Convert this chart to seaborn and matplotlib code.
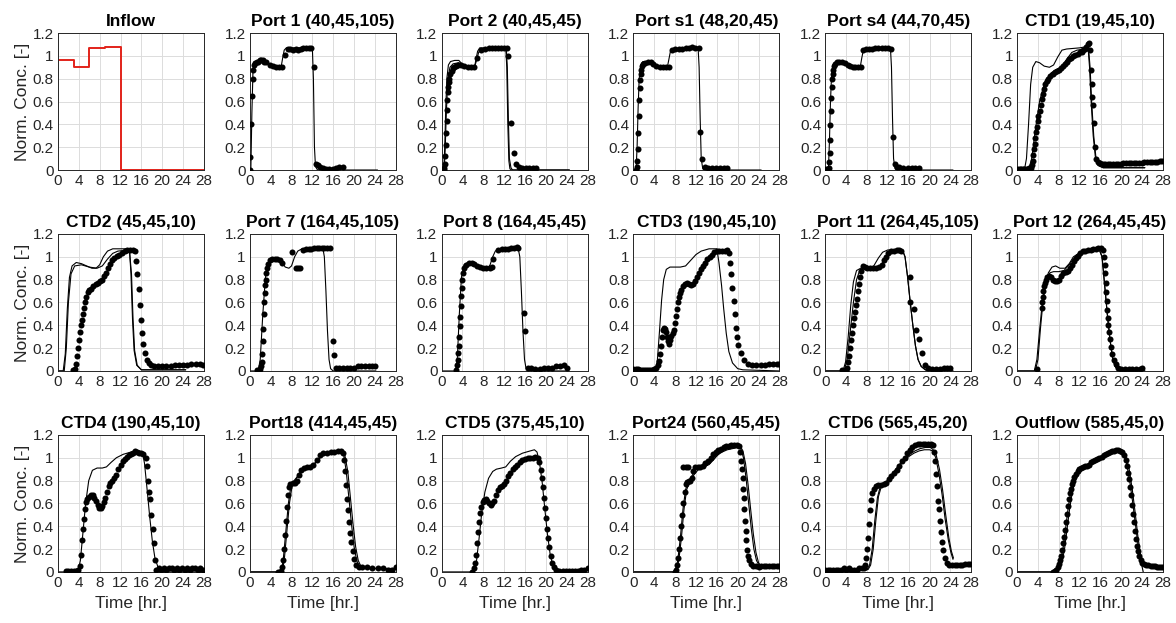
import matplotlib
matplotlib.use("Agg")
import matplotlib.pyplot as plt
import pandas as pd
import seaborn as sns

# ---------------- text ----------------
titles = ["Inflow", "Port 1 (40,45,105)", "Port 2 (40,45,45)", "Port s1 (48,20,45)",
          "Port s4 (44,70,45)", "CTD1 (19,45,10)",
          "CTD2 (45,45,10)", "Port 7 (164,45,105)", "Port 8 (164,45,45)", "CTD3 (190,45,10)",
          "Port 11 (264,45,105)", "Port 12 (264,45,45)",
          "CTD4 (190,45,10)", "Port18 (414,45,45)", "CTD5 (375,45,10)", "Port24 (560,45,45)",
          "CTD6 (565,45,20)", "Outflow (585,45,0)"]
ylabel_text = "Norm. Conc. [-]"
xlabel_text = "Time [hr.]"
xticks = [0, 4, 8, 12, 16, 20, 24, 28]
xtick_labels = ["0", "4", "8", "12", "16", "20", "24", "28"]
yticks = [0, 0.2, 0.4, 0.6, 0.8, 1.0, 1.2]
ytick_labels = ["0", "0.2", "0.4", "0.6", "0.8", "1", "1.2"]

# ---------------- data: (time [hr], normalized concentration) ----------------
inflow = [(0, 0.96), (3, 0.96), (3, 0.90), (6, 0.90), (6, 1.07), (9, 1.07), (9, 1.08),
          (12, 1.08), (12, 0.0), (28, 0.0)]

p1_sim = [(0, 0), (0.2, 0), (0.4, 0.5), (0.6, 0.85), (0.8, 0.93), (1.2, 0.95), (2, 0.95), (3, 0.95),
          (3.6, 0.93), (4.2, 0.91), (5, 0.90), (6.0, 0.90), (6.3, 0.98), (6.6, 1.05), (7, 1.07), (9, 1.07),
          (12.0, 1.07), (12.2, 0.8), (12.4, 0.2), (12.6, 0.03), (13, 0.0), (24.5, 0.0)]
p1_obs = [(0.0, 0.0), (0.1, 0.11), (0.3, 0.40), (0.45, 0.65), (0.57, 0.80), (0.65, 0.88), (0.8, 0.92),
          (1.0, 0.94), (1.3, 0.95), (1.6, 0.95), (1.9, 0.96), (2.2, 0.96), (2.5, 0.96), (2.8, 0.95),
          (3.1, 0.95), (3.8, 0.92), (4.4, 0.91), (5.0, 0.90), (5.6, 0.90), (6.2, 0.90), (6.8, 1.01),
          (7.3, 1.06), (7.8, 1.06), (8.3, 1.05), (8.8, 1.06), (9.3, 1.05), (9.8, 1.06), (10.3, 1.07),
          (10.8, 1.07), (11.3, 1.07), (11.8, 1.07), (12.4, 0.905), (12.7, 0.05), (13.1, 0.045),
          (13.5, 0.03), (14.0, 0.02), (14.6, 0.01), (15.2, 0.01), (15.9, 0.01), (16.6, 0.02),
          (17.2, 0.03), (17.8, 0.03)]

p2_sim_a = [(0, 0), (0.4, 0), (0.6, 0.2), (0.8, 0.55), (1.0, 0.8), (1.3, 0.92), (1.7, 0.95), (2.5, 0.96),
            (3.3, 0.96), (3.9, 0.93), (4.5, 0.91), (5.5, 0.90), (6.3, 0.90), (6.6, 0.97), (6.9, 1.04),
            (7.3, 1.07), (9, 1.07), (12.3, 1.07), (12.5, 0.9), (12.7, 0.4), (12.9, 0.08), (13.1, 0.01),
            (13.4, 0), (24.5, 0)]
p2_sim_b = [(0, 0), (0.5, 0), (0.7, 0.2), (0.9, 0.5), (1.2, 0.8), (1.6, 0.9), (2.2, 0.93), (3.3, 0.94),
            (4, 0.92), (5, 0.905), (6.3, 0.90), (6.7, 0.96), (7.1, 1.03), (7.5, 1.06), (9, 1.07),
            (12.4, 1.07), (12.6, 0.9), (12.8, 0.45), (13.0, 0.1), (13.3, 0.02), (13.6, 0), (24.5, 0)]
p2_obs = [(0.5, 0.0), (0.55, 0.02), (0.6, 0.05), (0.7, 0.12), (0.8, 0.22), (0.9, 0.32), (1.0, 0.43),
          (1.05, 0.53), (1.1, 0.61), (1.2, 0.68), (1.3, 0.73), (1.4, 0.77), (1.5, 0.8), (1.7, 0.84),
          (1.9, 0.87), (2.1, 0.89), (2.4, 0.9), (2.8, 0.91), (3.2, 0.92), (3.7, 0.92), (4.2, 0.91),
          (5.0, 0.9), (5.7, 0.9), (6.3, 0.9), (6.8, 0.98), (7.6, 1.05), (8.3, 1.06), (9.0, 1.07),
          (9.6, 1.07), (10.2, 1.07), (10.8, 1.07), (11.4, 1.07), (12.0, 1.07), (12.5, 1.07),
          (12.8, 1.0), (13.4, 0.41), (13.9, 0.15), (14.3, 0.05), (14.8, 0.03), (15.4, 0.02),
          (16.1, 0.02), (16.8, 0.02), (17.5, 0.02), (18.1, 0.02)]

p3_sim = [(0, 0), (0.5, 0), (0.7, 0.2), (0.9, 0.55), (1.1, 0.8), (1.4, 0.92), (1.8, 0.95), (3, 0.95),
          (3.6, 0.94), (4.3, 0.91), (5.5, 0.9), (6.5, 0.9), (6.8, 0.97), (7.1, 1.04), (7.5, 1.06),
          (10, 1.07), (12.4, 1.07), (12.6, 0.9), (12.8, 0.45), (13.0, 0.1), (13.3, 0.01), (13.6, 0),
          (24.5, 0)]
p3_obs = [(0.5, 0.0), (0.6, 0.03), (0.7, 0.08), (0.8, 0.18), (0.9, 0.32), (1.0, 0.47), (1.1, 0.61),
          (1.2, 0.72), (1.3, 0.79), (1.4, 0.84), (1.5, 0.88), (1.7, 0.91), (1.9, 0.93), (2.3, 0.94),
          (2.8, 0.95), (3.3, 0.95), (3.8, 0.93), (4.3, 0.91), (5.0, 0.9), (5.6, 0.9), (6.2, 0.9),
          (6.8, 0.9), (7.4, 1.05), (8.0, 1.06), (8.7, 1.06), (9.4, 1.06), (10.1, 1.07), (10.7, 1.07),
          (11.3, 1.08), (11.9, 1.07), (12.5, 1.07), (12.8, 0.33), (13.2, 0.1), (13.7, 0.03),
          (14.3, 0.02), (15.0, 0.02), (15.8, 0.02), (16.6, 0.02), (17.3, 0.02), (17.9, 0.02)]

p4_sim = [(0, 0), (0.6, 0), (0.8, 0.25), (1.0, 0.6), (1.2, 0.82), (1.5, 0.92), (2, 0.95), (3.2, 0.95),
          (3.8, 0.94), (4.5, 0.91), (5.5, 0.9), (6.7, 0.9), (7.0, 0.98), (7.3, 1.05), (7.8, 1.06),
          (10, 1.07), (12.5, 1.07), (12.7, 0.9), (12.9, 0.45), (13.1, 0.1), (13.4, 0.01), (13.7, 0),
          (24.5, 0)]
p4_obs = [(0.2, 0.01), (0.5, 0.01), (0.7, 0.02), (0.8, 0.07), (0.85, 0.15), (0.9, 0.26), (1.0, 0.39),
          (1.05, 0.52), (1.1, 0.63), (1.2, 0.73), (1.3, 0.8), (1.4, 0.84), (1.5, 0.88), (1.7, 0.91),
          (1.9, 0.93), (2.2, 0.95), (2.7, 0.95), (3.2, 0.95), (3.8, 0.94), (4.3, 0.92), (4.8, 0.91),
          (5.3, 0.9), (5.8, 0.9), (6.3, 0.9), (6.8, 0.9), (7.3, 1.05), (7.8, 1.06), (8.4, 1.06),
          (9.0, 1.06), (9.6, 1.07), (10.2, 1.07), (10.8, 1.07), (11.4, 1.07), (12.0, 1.07),
          (12.6, 1.06), (12.9, 0.29), (13.3, 0.05), (13.7, 0.03), (14.2, 0.03), (15.0, 0.02),
          (15.8, 0.02), (16.6, 0.02), (17.3, 0.02), (18.0, 0.02)]

p5_sim_a = [(0, 0), (1.4, 0), (1.8, 0.1), (2.2, 0.4), (2.6, 0.75), (3.0, 0.9), (3.6, 0.95), (4.3, 0.94),
            (5.2, 0.91), (6.2, 0.9), (7, 0.92), (7.8, 0.99), (8.6, 1.05), (9.5, 1.06), (12, 1.07),
            (13.2, 1.08), (13.6, 1.08), (13.9, 0.9), (14.2, 0.6), (14.6, 0.3), (15.0, 0.12),
            (15.5, 0.04), (16.5, 0.02), (24.5, 0.02)]
p5_sim_b = [(0, 0), (2.2, 0), (2.8, 0.1), (3.5, 0.35), (4.3, 0.6), (5.3, 0.77), (6.5, 0.85),
            (7.5, 0.88), (8.5, 0.9), (9.5, 0.97), (10.5, 1.03), (11.5, 1.05), (13, 1.06), (13.7, 1.07),
            (14.0, 0.9), (14.3, 0.6), (14.7, 0.3), (15.1, 0.12), (15.6, 0.04), (16.5, 0.02), (24.5, 0.02)]
p5_obs = [(0.2, 0.01), (0.5, 0.01), (0.8, 0.01), (1.1, 0.01), (1.4, 0.01), (1.7, 0.01), (2.0, 0.01),
          (2.3, 0.02), (2.6, 0.02), (2.8, 0.04), (3.0, 0.08), (3.1, 0.13), (3.2, 0.18), (3.35, 0.23),
          (3.5, 0.28), (3.65, 0.33), (3.8, 0.38), (3.95, 0.43), (4.1, 0.47), (4.3, 0.52), (4.5, 0.57),
          (4.7, 0.62), (4.9, 0.67), (5.1, 0.71), (5.4, 0.75), (5.7, 0.78), (6.0, 0.8), (6.4, 0.82),
          (6.8, 0.84), (7.2, 0.86), (7.6, 0.87), (8.0, 0.88), (8.4, 0.89), (8.8, 0.91), (9.2, 0.93),
          (9.6, 0.95), (10.0, 0.97), (10.4, 0.98), (10.8, 1.0), (11.2, 1.01), (11.6, 1.02), (12.0, 1.03),
          (12.4, 1.03), (12.7, 1.05), (13.0, 1.06), (13.3, 1.08), (13.6, 1.1), (13.8, 1.11),
          (14.0, 1.05), (14.2, 0.88), (14.3, 0.75), (14.4, 0.64), (14.5, 0.57), (14.7, 0.41),
          (15.0, 0.2), (15.2, 0.1), (15.5, 0.07), (15.9, 0.06), (16.4, 0.05), (16.9, 0.05),
          (17.4, 0.05), (17.9, 0.05), (18.4, 0.05), (18.9, 0.05), (19.4, 0.05), (19.9, 0.05),
          (20.4, 0.06), (20.9, 0.06), (21.4, 0.06), (21.9, 0.06), (22.4, 0.06), (22.9, 0.06),
          (23.4, 0.06), (23.9, 0.06), (24.4, 0.07), (24.9, 0.07), (25.4, 0.07), (25.9, 0.07),
          (26.4, 0.07), (26.9, 0.07), (27.4, 0.08), (27.8, 0.08)]

p7_sim_a = [(0, 0), (1.0, 0), (1.4, 0.15), (1.8, 0.55), (2.2, 0.82), (2.7, 0.92), (3.5, 0.95),
            (4.5, 0.94), (5.5, 0.92), (6.5, 0.9), (7.3, 0.9), (8, 0.93), (8.7, 1.0), (9.5, 1.05),
            (10.5, 1.07), (13.7, 1.07), (14.0, 0.85), (14.3, 0.45), (14.6, 0.18), (15.1, 0.05),
            (16, 0.01), (24.5, 0.01)]
p7_sim_b = [(0, 0), (1.2, 0), (1.6, 0.2), (2.0, 0.6), (2.5, 0.85), (3.2, 0.92), (4.5, 0.93),
            (6, 0.91), (7.5, 0.9), (8.5, 0.92), (9.5, 0.98), (10.5, 1.03), (11.5, 1.05), (13.7, 1.06),
            (14.1, 0.85), (14.4, 0.45), (14.7, 0.18), (15.2, 0.05), (16, 0.01), (24.5, 0.01)]
p7_obs = [(2.9, 0.01), (3.2, 0.02), (3.4, 0.06), (3.6, 0.13), (3.8, 0.2), (4.0, 0.27), (4.2, 0.34),
          (4.4, 0.4), (4.6, 0.45), (4.8, 0.5), (5.0, 0.55), (5.2, 0.6), (5.4, 0.65), (5.7, 0.69),
          (6.0, 0.71), (6.4, 0.72), (6.8, 0.74), (7.2, 0.76), (7.6, 0.77), (8.0, 0.79), (8.4, 0.8),
          (8.8, 0.83), (9.2, 0.86), (9.6, 0.9), (10.0, 0.94), (10.4, 0.97), (10.8, 0.99), (11.3, 1.01),
          (11.8, 1.02), (12.3, 1.03), (12.8, 1.05), (13.3, 1.06), (13.8, 1.06), (14.3, 1.06),
          (14.7, 1.05), (15.0, 0.96), (15.2, 0.85), (15.5, 0.72), (15.7, 0.58), (15.9, 0.45),
          (16.1, 0.33), (16.4, 0.24), (16.7, 0.16), (17.0, 0.1), (17.4, 0.07), (17.9, 0.05),
          (18.5, 0.04), (19.2, 0.04), (20.0, 0.04), (20.8, 0.04), (21.6, 0.04), (22.4, 0.05),
          (23.2, 0.05), (24.0, 0.05), (24.8, 0.05), (25.6, 0.06), (26.4, 0.06), (27.2, 0.06), (27.9, 0.05)]

p8_sim = [(0, 0), (1.6, 0), (2.0, 0.1), (2.5, 0.5), (3.0, 0.82), (3.5, 0.94), (4.3, 0.97), (5.2, 0.98),
          (6, 0.96), (6.8, 0.91), (7.5, 0.9), (8.0, 0.92), (8.6, 1.0), (9.2, 1.05), (10, 1.07),
          (12, 1.07), (14.0, 1.08), (14.3, 1.0), (14.6, 0.7), (14.9, 0.35), (15.2, 0.1), (15.5, 0.02),
          (16, 0), (24.2, 0)]
p8_obs = [(1.3, 0.01), (1.7, 0.01), (2.0, 0.02), (2.2, 0.04), (2.3, 0.08), (2.4, 0.15), (2.5, 0.26),
          (2.6, 0.37), (2.7, 0.5), (2.8, 0.6), (2.9, 0.68), (3.0, 0.75), (3.1, 0.8), (3.2, 0.86),
          (3.35, 0.9), (3.5, 0.94), (3.8, 0.97), (4.3, 0.98), (4.8, 0.98), (5.3, 0.98), (5.8, 0.97),
          (6.1, 0.95), (8.1, 1.04), (8.8, 0.9), (9.2, 0.9), (9.7, 0.9), (10.3, 1.06), (10.8, 1.07),
          (11.3, 1.07), (11.8, 1.07), (12.3, 1.08), (12.8, 1.08), (13.3, 1.08), (13.8, 1.08),
          (14.3, 1.08), (14.8, 1.08), (15.3, 1.08), (16.0, 0.26), (16.1, 0.14), (16.5, 0.03),
          (17.2, 0.03), (17.9, 0.03), (18.6, 0.03), (19.3, 0.03), (20.0, 0.03), (20.7, 0.04),
          (21.4, 0.04), (22.1, 0.04), (22.8, 0.04), (23.5, 0.04), (24.0, 0.04)]

p9_sim = [(0, 0), (2.7, 0), (3.0, 0.1), (3.4, 0.5), (3.8, 0.82), (4.3, 0.93), (5, 0.95), (6, 0.95),
          (6.8, 0.92), (7.6, 0.9), (8.8, 0.9), (9.3, 0.93), (9.8, 1.0), (10.3, 1.05), (11, 1.07),
          (14.7, 1.07), (15.0, 1.0), (15.3, 0.7), (15.6, 0.35), (15.9, 0.1), (16.2, 0.02), (16.5, 0),
          (24, 0)]
p9_obs = [(2.8, 0.01), (3.0, 0.05), (3.1, 0.1), (3.2, 0.16), (3.3, 0.22), (3.4, 0.3), (3.5, 0.39),
          (3.6, 0.47), (3.7, 0.57), (3.8, 0.66), (3.9, 0.73), (4.0, 0.8), (4.1, 0.86), (4.3, 0.9),
          (4.6, 0.93), (5.2, 0.95), (5.8, 0.95), (6.3, 0.94), (6.8, 0.92), (7.4, 0.91), (8.0, 0.9),
          (8.6, 0.9), (9.2, 0.9), (9.6, 0.91), (9.8, 0.98), (10.9, 1.06), (11.5, 1.07), (12.1, 1.07),
          (12.7, 1.07), (13.3, 1.08), (13.9, 1.08), (14.4, 1.09), (14.7, 1.08), (15.8, 0.51),
          (16.0, 0.35), (16.5, 0.03), (17.2, 0.03), (18.0, 0.02), (18.8, 0.02), (19.6, 0.03),
          (20.4, 0.03), (21.2, 0.03), (22.0, 0.04), (22.8, 0.04), (23.4, 0.05), (24.0, 0.03)]

p10_sim = [(0, 0), (4.2, 0), (4.6, 0.1), (5.0, 0.35), (5.4, 0.62), (5.8, 0.8), (6.3, 0.89), (7, 0.91),
           (9, 0.91), (10, 0.92), (11, 0.97), (12, 1.02), (13, 1.05), (14.5, 1.07), (16.0, 1.07),
           (16.4, 0.95), (16.9, 0.75), (17.3, 0.55), (17.8, 0.33), (18.3, 0.17), (19.0, 0.07),
           (20.0, 0.02), (21, 0.01), (28, 0.0)]
p10_obs = [(0.0, 0.02), (0.4, 0.02), (0.8, 0.02), (1.2, 0.01), (1.6, 0.01), (2.0, 0.01), (2.4, 0.01),
           (2.8, 0.01), (3.2, 0.01), (3.6, 0.01), (4.0, 0.02), (4.4, 0.03), (4.7, 0.05), (4.9, 0.09),
           (5.1, 0.15), (5.3, 0.22), (5.5, 0.3), (5.7, 0.36), (5.9, 0.38), (6.1, 0.37), (6.3, 0.34),
           (6.5, 0.3), (6.7, 0.26), (6.9, 0.24), (7.1, 0.27), (7.3, 0.31), (7.5, 0.33), (7.7, 0.36),
           (7.9, 0.42), (8.1, 0.48), (8.3, 0.54), (8.5, 0.6), (8.7, 0.65), (8.9, 0.68), (9.2, 0.71),
           (9.5, 0.74), (9.8, 0.76), (10.2, 0.77), (10.6, 0.76), (11.0, 0.75), (11.4, 0.76),
           (11.8, 0.79), (12.2, 0.82), (12.6, 0.86), (13.0, 0.89), (13.4, 0.92), (13.8, 0.95),
           (14.2, 0.98), (14.6, 1.0), (15.0, 1.02), (15.5, 1.04), (16.0, 1.05), (16.5, 1.05),
           (17.0, 1.05), (17.5, 1.05), (18.0, 1.06), (18.3, 1.03), (18.5, 0.95), (18.7, 0.85),
           (19.0, 0.73), (19.2, 0.61), (19.4, 0.5), (19.6, 0.38), (19.8, 0.3), (20.1, 0.23),
           (20.6, 0.16), (21.2, 0.1), (22.0, 0.06), (22.8, 0.05), (23.6, 0.05), (24.4, 0.05),
           (25.2, 0.05), (26.0, 0.06), (26.8, 0.06), (27.6, 0.06), (28.0, 0.06)]

p11_sim_a = [(0, 0), (3.4, 0), (3.9, 0.08), (4.4, 0.3), (4.9, 0.58), (5.4, 0.78), (6.0, 0.88),
             (6.8, 0.9), (8.5, 0.9), (9.3, 0.92), (10.2, 0.99), (11.0, 1.04), (12, 1.06), (14.8, 1.06),
             (15.3, 1.0), (15.8, 0.82), (16.3, 0.6), (16.8, 0.4), (17.3, 0.22), (17.8, 0.1),
             (18.4, 0.04), (19.2, 0.01), (20, 0), (24.5, 0)]
p11_sim_b = [(0, 0), (3.6, 0), (4.2, 0.1), (4.8, 0.35), (5.4, 0.6), (6.0, 0.8), (6.6, 0.88),
             (7.4, 0.9), (9.5, 0.9), (10.5, 0.92), (11.5, 0.98), (12.5, 1.03), (13.5, 1.05),
             (14.8, 1.06), (15.3, 1.0), (15.8, 0.82), (16.3, 0.6), (16.8, 0.4), (17.3, 0.22),
             (17.8, 0.1), (18.4, 0.04), (19.2, 0.01), (20, 0), (24.5, 0)]
p11_obs = [(3.2, 0.01), (4.0, 0.0), (4.1, 0.03), (4.3, 0.08), (4.5, 0.13), (4.7, 0.2), (4.9, 0.27),
           (5.1, 0.33), (5.3, 0.4), (5.5, 0.46), (5.7, 0.52), (5.9, 0.58), (6.1, 0.63), (6.3, 0.7),
           (6.5, 0.76), (6.7, 0.82), (6.9, 0.88), (7.2, 0.92), (7.6, 0.91), (8.0, 0.9), (8.6, 0.9),
           (9.2, 0.9), (9.8, 0.9), (10.4, 0.91), (10.8, 0.93), (11.2, 0.97), (11.6, 1.0), (12.0, 1.03),
           (12.6, 1.05), (13.2, 1.05), (13.8, 1.06), (14.2, 1.06), (14.6, 1.05), (16.2, 0.82),
           (16.3, 0.6), (17.0, 0.54), (17.4, 0.36), (17.9, 0.28), (18.5, 0.16), (19.2, 0.05),
           (19.8, 0.03), (20.5, 0.02), (21.2, 0.02), (22.0, 0.02), (22.7, 0.03), (23.4, 0.03), (24.0, 0.03)]

p12_sim_a = [(0, 0), (3.3, 0), (3.8, 0.1), (4.3, 0.35), (4.8, 0.58), (5.4, 0.76), (6.0, 0.86),
             (6.7, 0.91), (7.4, 0.92), (8.2, 0.9), (9.2, 0.9), (10.0, 0.94), (10.8, 1.0), (11.8, 1.03),
             (13, 1.05), (15.7, 1.07), (16.3, 1.0), (16.8, 0.75), (17.3, 0.5), (17.8, 0.28),
             (18.3, 0.12), (18.8, 0.04), (19.3, 0.01), (20, 0), (24.5, 0)]
p12_sim_b = [(0, 0), (3.5, 0), (4.0, 0.1), (4.5, 0.38), (5.0, 0.62), (5.6, 0.8), (6.3, 0.86),
             (7.0, 0.87), (8.0, 0.87), (9.0, 0.88), (10.0, 0.93), (10.8, 0.98), (11.8, 1.02), (13, 1.05),
             (15.7, 1.07), (16.3, 1.0), (16.8, 0.75), (17.3, 0.5), (17.8, 0.28), (18.3, 0.12),
             (18.8, 0.04), (19.3, 0.01), (20, 0), (24.5, 0)]
p12_obs = [(3.9, 0.02), (4.7, 0.55), (4.8, 0.6), (4.9, 0.65), (5.0, 0.7), (5.15, 0.74), (5.3, 0.77),
           (5.5, 0.8), (5.8, 0.82), (6.1, 0.83), (6.5, 0.82), (6.9, 0.8), (7.3, 0.79), (7.7, 0.79),
           (8.1, 0.8), (8.5, 0.83), (8.9, 0.86), (9.3, 0.87), (9.7, 0.88), (10.1, 0.9), (10.5, 0.93),
           (10.9, 0.96), (11.3, 0.99), (11.7, 1.01), (12.1, 1.03), (12.6, 1.05), (13.1, 1.05),
           (13.6, 1.06), (14.1, 1.06), (14.6, 1.07), (15.1, 1.07), (15.6, 1.08), (16.0, 1.08),
           (16.4, 1.06), (16.7, 1.0), (16.8, 0.93), (16.9, 0.86), (17.0, 0.77), (17.1, 0.69),
           (17.2, 0.61), (17.3, 0.53), (17.4, 0.46), (17.5, 0.4), (17.6, 0.34), (17.8, 0.28),
           (18.0, 0.21), (18.2, 0.15), (18.5, 0.1), (18.9, 0.06), (19.4, 0.03), (20.0, 0.02),
           (20.7, 0.02), (21.4, 0.02), (22.1, 0.02), (22.8, 0.02), (23.5, 0.02), (24.0, 0.03)]

p13_sim = [(0, 0), (3.8, 0), (4.3, 0.1), (4.8, 0.35), (5.3, 0.6), (5.9, 0.8), (6.6, 0.89), (7.5, 0.91),
           (8.5, 0.91), (9.3, 0.92), (10.2, 0.96), (11.2, 1.0), (12.5, 1.03), (14, 1.05), (15.5, 1.06),
           (16.2, 1.05), (16.6, 0.95), (17.1, 0.72), (17.6, 0.48), (18.1, 0.27), (18.6, 0.12),
           (19.2, 0.04), (20, 0.01), (21, 0), (28, 0)]
p13_obs = [(1.5, 0.01), (2.0, 0.01), (2.5, 0.01), (3.0, 0.01), (3.5, 0.01), (3.9, 0.02), (4.2, 0.05),
           (4.4, 0.15), (4.6, 0.28), (4.8, 0.38), (5.0, 0.46), (5.2, 0.55), (5.4, 0.61), (5.6, 0.64),
           (5.9, 0.66), (6.3, 0.67), (6.7, 0.67), (7.0, 0.65), (7.3, 0.62), (7.6, 0.59), (7.9, 0.56),
           (8.2, 0.56), (8.5, 0.58), (8.8, 0.61), (9.1, 0.65), (9.4, 0.7), (9.7, 0.75), (10.0, 0.78),
           (10.4, 0.8), (10.8, 0.82), (11.2, 0.85), (11.6, 0.9), (12.0, 0.94), (12.4, 0.97),
           (12.8, 0.99), (13.2, 1.01), (13.6, 1.02), (14.0, 1.03), (14.4, 1.04), (14.8, 1.06),
           (15.2, 1.05), (15.6, 1.04), (16.0, 1.04), (16.4, 1.03), (16.8, 1.0), (17.0, 0.93),
           (17.3, 0.8), (17.5, 0.7), (17.7, 0.64), (17.9, 0.5), (18.2, 0.38), (18.4, 0.25),
           (18.6, 0.1), (18.8, 0.02), (19.3, 0.03), (19.8, 0.02), (20.3, 0.03), (20.8, 0.02),
           (21.3, 0.03), (21.8, 0.03), (22.3, 0.02), (22.8, 0.03), (23.3, 0.02), (23.8, 0.03),
           (24.3, 0.02), (24.8, 0.03), (25.3, 0.02), (25.8, 0.03), (26.3, 0.03), (26.8, 0.02),
           (27.3, 0.03), (27.8, 0.02)]

p14_sim_a = [(0, 0), (6.0, 0), (6.4, 0.1), (6.9, 0.35), (7.4, 0.6), (7.9, 0.76), (8.5, 0.8),
             (9.2, 0.84), (10, 0.9), (11, 0.92), (12, 0.93), (13, 0.98), (14, 1.03), (15, 1.04),
             (16.5, 1.05), (17.5, 1.06), (18, 1.03), (18.5, 0.88), (19, 0.65), (19.5, 0.42), (20, 0.22),
             (20.5, 0.1), (21, 0.05), (22, 0.03), (28, 0.03)]
p14_sim_b = [(0, 0), (6.2, 0), (6.6, 0.1), (7.1, 0.35), (7.6, 0.6), (8.1, 0.75), (8.7, 0.8),
             (9.5, 0.86), (10.3, 0.91), (11.5, 0.92), (12.5, 0.95), (13.5, 1.0), (14.5, 1.03),
             (16, 1.05), (17.5, 1.06), (18.2, 1.03), (18.8, 0.88), (19.3, 0.65), (19.8, 0.42),
             (20.3, 0.22), (20.8, 0.1), (21.3, 0.05), (22, 0.03), (28, 0.03)]
p14_obs = [(5.4, 0.0), (6.0, 0.01), (6.2, 0.04), (6.4, 0.1), (6.6, 0.2), (6.8, 0.32), (7.0, 0.45),
           (7.2, 0.57), (7.4, 0.67), (7.6, 0.74), (7.8, 0.77), (8.2, 0.78), (8.6, 0.78), (9.0, 0.8),
           (9.4, 0.85), (9.8, 0.89), (10.4, 0.91), (11.0, 0.92), (11.6, 0.92), (12.2, 0.94),
           (12.8, 0.98), (13.4, 1.02), (14.0, 1.04), (14.8, 1.04), (15.5, 1.05), (16.2, 1.05),
           (16.9, 1.06), (17.5, 1.06), (17.8, 1.04), (18.0, 0.98), (18.2, 0.88), (18.4, 0.76),
           (18.6, 0.64), (18.8, 0.54), (19.0, 0.44), (19.2, 0.34), (19.4, 0.26), (19.7, 0.18),
           (20.0, 0.11), (20.4, 0.06), (20.9, 0.04), (21.5, 0.04), (22.5, 0.04), (23.5, 0.03),
           (24.5, 0.03), (25.5, 0.03), (26.5, 0.02), (27.3, 0.02), (28.0, 0.04)]

p15_sim = [(0, 0), (6.2, 0), (6.7, 0.1), (7.2, 0.3), (7.7, 0.52), (8.3, 0.7), (9.0, 0.82), (9.8, 0.88),
           (10.5, 0.9), (11.5, 0.91), (12.3, 0.92), (13.2, 0.97), (14.2, 1.01), (15.5, 1.04), (17, 1.06),
           (17.8, 1.07), (18.3, 1.05), (18.8, 0.95), (19.3, 0.78), (19.8, 0.55), (20.3, 0.33),
           (20.8, 0.16), (21.3, 0.06), (22, 0.02), (23, 0.01), (28, 0.01)]
p15_obs = [(5.8, 0.0), (6.2, 0.03), (6.4, 0.08), (6.6, 0.15), (6.8, 0.25), (7.0, 0.35), (7.2, 0.44),
           (7.4, 0.52), (7.6, 0.57), (7.9, 0.61), (8.2, 0.63), (8.5, 0.64), (8.8, 0.62), (9.1, 0.6),
           (9.4, 0.59), (9.7, 0.6), (10.0, 0.62), (10.4, 0.67), (10.8, 0.72), (11.2, 0.74),
           (11.6, 0.75), (12.0, 0.77), (12.4, 0.8), (12.8, 0.84), (13.2, 0.87), (13.6, 0.9),
           (14.0, 0.92), (14.5, 0.94), (15.0, 0.96), (15.5, 0.98), (16.0, 0.99), (16.5, 1.0),
           (17.0, 1.0), (17.5, 1.0), (18.0, 1.01), (18.4, 1.0), (18.7, 0.96), (19.0, 0.89),
           (19.2, 0.82), (19.4, 0.74), (19.6, 0.65), (19.8, 0.56), (20.0, 0.47), (20.2, 0.38),
           (20.4, 0.3), (20.6, 0.22), (20.9, 0.14), (21.2, 0.08), (21.6, 0.04), (22.0, 0.02),
           (22.6, 0.01), (23.2, 0.01), (23.8, 0.01), (24.4, 0.01), (25.0, 0.01), (25.6, 0.01),
           (26.2, 0.01), (26.8, 0.02), (27.4, 0.02), (28.0, 0.03)]

p16_sim_a = [(0, 0), (8.0, 0), (8.5, 0.1), (9.0, 0.3), (9.5, 0.55), (10.0, 0.72), (10.5, 0.79),
             (11.2, 0.84), (12, 0.9), (13, 0.92), (14, 0.93), (15, 0.97), (16, 1.02), (17, 1.05),
             (18, 1.07), (19, 1.08), (20, 1.09), (20.6, 1.08), (21.1, 1.0), (21.6, 0.82), (22.1, 0.6),
             (22.6, 0.38), (23.1, 0.2), (23.6, 0.1), (24.2, 0.05), (25, 0.04), (28, 0.04)]
p16_sim_b = [(0, 0), (8.2, 0), (8.7, 0.1), (9.2, 0.3), (9.7, 0.55), (10.2, 0.72), (10.8, 0.79),
             (11.6, 0.85), (12.5, 0.9), (13.5, 0.92), (14.5, 0.94), (15.5, 0.99), (16.5, 1.04),
             (17.5, 1.07), (18.5, 1.09), (19.5, 1.1), (20.5, 1.1), (21.0, 1.06), (21.5, 0.95),
             (22.0, 0.76), (22.5, 0.54), (23.0, 0.33), (23.5, 0.17), (24.0, 0.08), (24.5, 0.05),
             (25, 0.04), (28, 0.04)]
p16_obs = [(8.0, 0.0), (8.2, 0.02), (8.4, 0.06), (8.6, 0.12), (8.8, 0.2), (9.0, 0.3), (9.2, 0.4),
           (9.4, 0.5), (9.6, 0.6), (9.8, 0.7), (10.0, 0.77), (10.3, 0.79), (10.6, 0.8), (10.9, 0.8),
           (11.2, 0.82), (9.5, 0.92), (10.0, 0.92), (10.5, 0.92), (11.5, 0.88), (11.8, 0.92),
           (12.3, 0.92), (12.8, 0.92), (13.3, 0.93), (13.8, 0.95), (14.3, 0.97), (14.8, 1.0),
           (15.3, 1.03), (15.8, 1.05), (16.3, 1.07), (16.8, 1.08), (17.3, 1.09), (17.8, 1.1),
           (18.3, 1.1), (18.8, 1.11), (19.3, 1.11), (19.8, 1.11), (20.2, 1.1), (20.5, 1.05),
           (20.7, 0.97), (20.9, 0.9), (21.0, 0.82), (21.1, 0.73), (21.2, 0.65), (21.3, 0.55),
           (21.4, 0.45), (21.5, 0.36), (21.6, 0.28), (21.8, 0.19), (22.0, 0.14), (22.2, 0.1),
           (22.5, 0.07), (23.0, 0.05), (23.5, 0.05), (24.0, 0.04), (24.5, 0.05), (25.0, 0.05),
           (25.5, 0.05), (26.0, 0.05), (26.5, 0.05), (27.0, 0.05), (27.5, 0.05), (28.0, 0.05)]

p17_sim_a = [(0, 0.02), (8.0, 0.02), (8.5, 0.06), (9.0, 0.2), (9.5, 0.45), (10.0, 0.65), (10.5, 0.74),
             (11.2, 0.77), (12, 0.8), (13, 0.86), (14, 0.92), (15, 0.97), (16, 1.01), (17, 1.04),
             (18, 1.06), (19, 1.07), (20, 1.07), (20.6, 1.06), (21.2, 1.0), (21.8, 0.86), (22.4, 0.68),
             (23.0, 0.46), (23.6, 0.28), (24.1, 0.17), (24.5, 0.11)]
p17_sim_b = [(0, 0.02), (8.2, 0.02), (8.7, 0.06), (9.2, 0.2), (9.7, 0.45), (10.2, 0.66), (10.7, 0.74),
             (11.4, 0.77), (12.2, 0.82), (13.2, 0.88), (14.2, 0.94), (15.2, 0.99), (16.2, 1.03),
             (17.2, 1.06), (18.2, 1.08), (19.2, 1.09), (20.2, 1.09), (20.7, 1.07), (21.3, 1.02),
             (21.9, 0.9), (22.5, 0.72), (23.1, 0.5), (23.7, 0.3), (24.2, 0.18), (24.6, 0.12)]
p17_obs = [(0.0, 0.02), (0.5, 0.02), (1.0, 0.02), (1.5, 0.02), (2.0, 0.02), (2.5, 0.02), (3.0, 0.02),
           (3.5, 0.03), (4.0, 0.02), (4.5, 0.03), (5.0, 0.02), (5.5, 0.02), (6.0, 0.02), (6.5, 0.03),
           (7.0, 0.03), (7.4, 0.03), (7.6, 0.06), (7.8, 0.12), (8.0, 0.2), (8.2, 0.3), (8.4, 0.42),
           (8.6, 0.54), (8.8, 0.63), (9.0, 0.69), (9.3, 0.73), (9.7, 0.75), (10.2, 0.76), (10.7, 0.76),
           (11.2, 0.77), (11.7, 0.78), (12.2, 0.81), (12.7, 0.84), (13.2, 0.87), (13.7, 0.89),
           (14.2, 0.93), (14.7, 0.97), (15.2, 1.0), (15.7, 1.04), (16.2, 1.07), (16.7, 1.09),
           (17.2, 1.11), (17.7, 1.12), (18.2, 1.12), (18.7, 1.12), (19.2, 1.12), (19.7, 1.12),
           (20.2, 1.12), (20.6, 1.11), (20.9, 1.05), (21.1, 0.97), (21.3, 0.86), (21.5, 0.75),
           (21.7, 0.62), (21.8, 0.55), (22.0, 0.45), (22.2, 0.35), (22.4, 0.26), (22.6, 0.19),
           (22.9, 0.12), (23.3, 0.08), (23.8, 0.06), (24.3, 0.06), (24.8, 0.06), (25.3, 0.06),
           (25.8, 0.06), (26.3, 0.06), (26.8, 0.07), (27.3, 0.07), (27.8, 0.07)]

p18_sim_a = [(0, 0), (7.3, 0), (7.8, 0.02), (8.3, 0.08), (8.8, 0.2), (9.3, 0.38), (9.8, 0.56),
             (10.3, 0.7), (10.8, 0.79), (11.4, 0.85), (12, 0.89), (13, 0.92), (14, 0.94), (15, 0.97),
             (16, 1.0), (17, 1.03), (18, 1.05), (19, 1.06), (19.8, 1.06), (20.4, 1.03), (21.0, 0.95),
             (21.6, 0.8), (22.2, 0.6), (22.8, 0.38), (23.3, 0.2), (23.8, 0.08), (24.2, 0.0)]
p18_sim_b = [(0, 0), (7.6, 0), (8.1, 0.02), (8.6, 0.08), (9.1, 0.2), (9.6, 0.38), (10.1, 0.56),
             (10.6, 0.7), (11.1, 0.79), (11.7, 0.85), (12.4, 0.89), (13.4, 0.92), (14.5, 0.95),
             (15.5, 0.98), (16.5, 1.01), (17.5, 1.04), (18.5, 1.06), (19.5, 1.07), (20.3, 1.06),
             (20.9, 1.01), (21.5, 0.9), (22.1, 0.72), (22.7, 0.5), (23.2, 0.3), (23.7, 0.15),
             (24.2, 0.08), (24.6, 0.07)]
p18_obs = [(6.9, 0.0), (7.2, 0.01), (7.5, 0.02), (7.8, 0.04), (8.0, 0.07), (8.2, 0.1), (8.4, 0.14),
           (8.6, 0.19), (8.8, 0.25), (9.0, 0.31), (9.2, 0.37), (9.4, 0.44), (9.6, 0.51), (9.8, 0.58),
           (10.0, 0.64), (10.2, 0.69), (10.4, 0.73), (10.6, 0.77), (10.8, 0.8), (11.0, 0.83),
           (11.3, 0.86), (11.6, 0.88), (11.9, 0.9), (12.2, 0.91), (12.6, 0.92), (13.0, 0.93),
           (13.4, 0.93), (13.8, 0.94), (14.2, 0.96), (14.6, 0.97), (15.0, 0.98), (15.4, 0.99),
           (15.8, 1.0), (16.2, 1.01), (16.6, 1.02), (17.0, 1.03), (17.4, 1.04), (17.8, 1.05),
           (18.2, 1.06), (18.6, 1.06), (19.0, 1.07), (19.4, 1.07), (19.8, 1.06), (20.2, 1.05),
           (20.5, 1.02), (20.8, 0.98), (21.0, 0.93), (21.2, 0.87), (21.4, 0.81), (21.6, 0.74),
           (21.8, 0.67), (22.0, 0.59), (22.2, 0.51), (22.4, 0.44), (22.6, 0.36), (22.8, 0.29),
           (23.0, 0.23), (23.2, 0.18), (23.4, 0.14), (23.7, 0.1), (24.0, 0.08), (24.4, 0.07),
           (24.8, 0.06), (25.2, 0.06), (25.6, 0.05), (26.0, 0.05), (26.4, 0.05), (26.8, 0.04),
           (27.2, 0.04), (27.6, 0.04), (28.0, 0.04)]

panels = [
    ([inflow], None), ([p1_sim], p1_obs), ([p2_sim_a, p2_sim_b], p2_obs), ([p3_sim], p3_obs),
    ([p4_sim], p4_obs), ([p5_sim_a, p5_sim_b], p5_obs),
    ([p7_sim_a, p7_sim_b], p7_obs), ([p8_sim], p8_obs), ([p9_sim], p9_obs), ([p10_sim], p10_obs),
    ([p11_sim_a, p11_sim_b], p11_obs), ([p12_sim_a, p12_sim_b], p12_obs),
    ([p13_sim], p13_obs), ([p14_sim_a, p14_sim_b], p14_obs), ([p15_sim], p15_obs),
    ([p16_sim_a, p16_sim_b], p16_obs), ([p17_sim_a, p17_sim_b], p17_obs),
    ([p18_sim_a, p18_sim_b], p18_obs),
]

# ---------------- style ----------------
sns.set_theme(style="white")
plt.rcParams["font.family"] = ["Liberation Sans", "DejaVu Sans"]
dark = "#262626"

fig, axes = plt.subplots(3, 6, figsize=(11.76, 6.23), dpi=100)
fig.subplots_adjust(left=0.0493, right=0.989, bottom=0.082, top=0.947, wspace=0.314, hspace=0.467)

for i, (ax, title, (sims, obs)) in enumerate(zip(axes.flat, titles, panels)):
    for s in sims:
        df = pd.DataFrame(s, columns=["t", "c"])
        if obs is None:
            sns.lineplot(data=df, x="t", y="c", ax=ax, color="#e2231a", lw=1.4,
                         estimator=None, sort=False)
        else:
            sns.lineplot(data=df, x="t", y="c", ax=ax, color="black", lw=0.8,
                         estimator=None, sort=False)
    if obs is not None:
        dfo = pd.DataFrame(obs, columns=["t", "c"])
        sns.scatterplot(data=dfo, x="t", y="c", ax=ax, color="black", s=19,
                        linewidth=0, zorder=3)
    ax.set_xlim(0, 28)
    ax.set_ylim(0, 1.2)
    ax.set_xticks(xticks)
    ax.set_xticklabels(xtick_labels)
    ax.set_yticks(yticks)
    ax.set_yticklabels(ytick_labels)
    ax.grid(True, color="#dcdcdc", lw=0.7)
    ax.set_axisbelow(True)
    ax.tick_params(direction="in", length=2.5, width=0.6, labelsize=11,
                   colors=dark, pad=3)
    for sp in ax.spines.values():
        sp.set_color(dark)
        sp.set_linewidth(0.7)
    ax.set_title(title, fontsize=12.5, fontweight="bold", color="black", pad=5)
    row, col = divmod(i, 6)
    ax.set_ylabel(ylabel_text if col == 0 else "", fontsize=12.5, color=dark, labelpad=2)
    ax.set_xlabel(xlabel_text if row == 2 else "", fontsize=12.5, color=dark, labelpad=4)

fig.savefig("out.png", dpi=100, facecolor="white")
